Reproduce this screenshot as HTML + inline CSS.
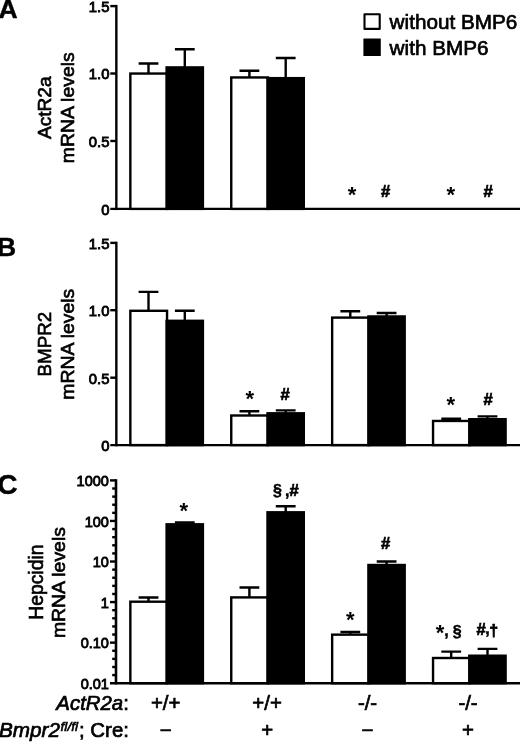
<!DOCTYPE html>
<html lang="en">
<head>
<meta charset="utf-8">
<title>Figure: ActR2a, BMPR2 and Hepcidin mRNA levels</title>
<style>
html,body{margin:0;padding:0;background:#fff;}
body{width:520px;height:742px;overflow:hidden;font-family:"Liberation Sans",sans-serif;}
svg{display:block;}
text{font-family:"Liberation Sans",sans-serif;fill:#000;}
.l{fill:none;stroke:#000;stroke-width:2.4;}
.w{fill:#fff;stroke:#000;stroke-width:2.4;}
.b{fill:#000;stroke:#000;stroke-width:2.4;}
.t{font-size:15px;stroke:#000;stroke-width:.9px;}
.y{font-size:19.2px;stroke:#000;stroke-width:.65px;}
.g{font-size:20.7px;stroke:#000;stroke-width:.7px;}
.i{font-style:italic;}
.s{font-weight:bold;}
.h{stroke:#000;stroke-width:.7px;}
.h2{stroke:#000;stroke-width:.45px;}
.u{font-size:13.6px;stroke:#000;stroke-width:.6px;}
.p{font-size:26.5px;font-weight:bold;stroke:#000;stroke-width:.4px;}
</style>
</head>
<body>
<svg width="520" height="742" viewBox="0 0 520 742">
<rect width="520" height="742" fill="#fff"/>
<path d="M116.35 4.90V210.10" class="l"/>
<path d="M110.3 208.90H520" class="l"/>
<path d="M110.3 6.10H116.35" class="l"/>
<path d="M110.3 73.50H116.35" class="l"/>
<path d="M110.3 141.00H116.35" class="l"/>
<text transform="translate(109.5 11.90) scale(0.97 1)" class="t" style="font-size:15.3px" text-anchor="end">1.5</text>
<text transform="translate(109.5 79.30) scale(0.97 1)" class="t" style="font-size:15.3px" text-anchor="end">1.0</text>
<text transform="translate(109.5 146.80) scale(0.97 1)" class="t" style="font-size:15.3px" text-anchor="end">0.5</text>
<text transform="translate(109.5 214.70) scale(0.97 1)" class="t" style="font-size:15.3px" text-anchor="end">0</text>
<path d="M148.50 73.55V63.50M138.60 63.50H158.40" class="l"/>
<rect x="130.35" y="73.55" width="36.70" height="135.35" class="w"/>
<path d="M184.80 67.40V49.30M174.90 49.30H194.70" class="l"/>
<rect x="166.60" y="67.40" width="36.30" height="141.50" class="b"/>
<path d="M249.40 77.45V70.80M239.50 70.80H259.30" class="l"/>
<rect x="231.25" y="77.45" width="36.70" height="131.45" class="w"/>
<path d="M285.70 78.15V58.00M275.80 58.00H295.60" class="l"/>
<rect x="267.50" y="78.15" width="36.30" height="130.75" class="b"/>
<text transform="translate(51.0 107.8) rotate(-90)" class="y" text-anchor="middle" textLength="62.6" lengthAdjust="spacingAndGlyphs">ActR2a</text>
<text transform="translate(73.7 107.8) rotate(-90)" class="y" text-anchor="middle" textLength="110.9" lengthAdjust="spacingAndGlyphs">mRNA levels</text>
<text x="352.0" y="201.5" class="s" font-size="22" text-anchor="middle">*</text>
<text x="385.6" y="197.2" class="s h" font-size="16.6" text-anchor="middle">#</text>
<text x="450.8" y="201.5" class="s" font-size="22" text-anchor="middle">*</text>
<text x="488.0" y="197.2" class="s h" font-size="16.6" text-anchor="middle">#</text>
<path d="M116.35 241.70V446.30" class="l"/>
<path d="M110.3 445.10H520" class="l"/>
<path d="M110.3 242.90H116.35" class="l"/>
<path d="M110.3 310.20H116.35" class="l"/>
<path d="M110.3 377.70H116.35" class="l"/>
<text transform="translate(109.5 248.70) scale(0.97 1)" class="t" style="font-size:15.3px" text-anchor="end">1.5</text>
<text transform="translate(109.5 316.00) scale(0.97 1)" class="t" style="font-size:15.3px" text-anchor="end">1.0</text>
<text transform="translate(109.5 383.50) scale(0.97 1)" class="t" style="font-size:15.3px" text-anchor="end">0.5</text>
<text transform="translate(109.5 450.90) scale(0.97 1)" class="t" style="font-size:15.3px" text-anchor="end">0</text>
<path d="M148.50 310.80V291.90M138.60 291.90H158.40" class="l"/>
<rect x="130.35" y="310.80" width="36.70" height="134.30" class="w"/>
<path d="M184.80 320.80V310.80M174.90 310.80H194.70" class="l"/>
<rect x="166.60" y="320.80" width="36.30" height="124.30" class="b"/>
<path d="M249.40 415.50V411.30M239.50 411.30H259.30" class="l"/>
<rect x="231.25" y="415.50" width="36.70" height="29.60" class="w"/>
<path d="M285.70 413.30V410.40M275.80 410.40H295.60" class="l"/>
<rect x="267.50" y="413.30" width="36.30" height="31.80" class="b"/>
<path d="M350.30 317.60V311.20M340.40 311.20H360.20" class="l"/>
<rect x="332.15" y="317.60" width="36.70" height="127.50" class="w"/>
<path d="M386.60 316.45V313.00M376.70 313.00H396.50" class="l"/>
<rect x="368.40" y="316.45" width="36.30" height="128.65" class="b"/>
<path d="M451.20 420.95V418.70M441.30 418.70H461.10" class="l"/>
<rect x="433.05" y="420.95" width="36.70" height="24.15" class="w"/>
<path d="M487.50 419.20V416.40M477.60 416.40H497.40" class="l"/>
<rect x="469.30" y="419.20" width="36.30" height="25.90" class="b"/>
<text transform="translate(51.0 344.2) rotate(-90)" class="y" text-anchor="middle" textLength="64.6" lengthAdjust="spacingAndGlyphs">BMPR2</text>
<text transform="translate(73.7 344.2) rotate(-90)" class="y" text-anchor="middle" textLength="110.9" lengthAdjust="spacingAndGlyphs">mRNA levels</text>
<text x="249.8" y="406.3" class="s" font-size="22" text-anchor="middle">*</text>
<text x="285.0" y="399.6" class="s h" font-size="16.6" text-anchor="middle">#</text>
<text x="450.8" y="411.9" class="s" font-size="22" text-anchor="middle">*</text>
<text x="488.2" y="405.3" class="s h" font-size="16.6" text-anchor="middle">#</text>
<path d="M116.00 479.20V684.40" class="l" style="stroke-width:2.6"/>
<path d="M110.0 683.20H520" class="l"/>
<path d="M110.0 480.40H116.00" class="l"/>
<path d="M110.0 520.96H116.00" class="l"/>
<path d="M110.0 561.52H116.00" class="l"/>
<path d="M110.0 602.08H116.00" class="l"/>
<path d="M110.0 642.64H116.00" class="l"/>
<path d="M112.2 488.51H116.00" class="l"/>
<path d="M112.2 496.62H116.00" class="l"/>
<path d="M112.2 504.74H116.00" class="l"/>
<path d="M112.2 512.85H116.00" class="l"/>
<path d="M112.2 529.07H116.00" class="l"/>
<path d="M112.2 537.18H116.00" class="l"/>
<path d="M112.2 545.30H116.00" class="l"/>
<path d="M112.2 553.41H116.00" class="l"/>
<path d="M112.2 569.63H116.00" class="l"/>
<path d="M112.2 577.74H116.00" class="l"/>
<path d="M112.2 585.86H116.00" class="l"/>
<path d="M112.2 593.97H116.00" class="l"/>
<path d="M112.2 610.19H116.00" class="l"/>
<path d="M112.2 618.30H116.00" class="l"/>
<path d="M112.2 626.42H116.00" class="l"/>
<path d="M112.2 634.53H116.00" class="l"/>
<path d="M112.2 650.75H116.00" class="l"/>
<path d="M112.2 658.86H116.00" class="l"/>
<path d="M112.2 666.98H116.00" class="l"/>
<path d="M112.2 675.09H116.00" class="l"/>
<text transform="translate(108.9 486.25) scale(0.95 1)" class="t" style="font-size:15.3px" text-anchor="end">1000</text>
<text transform="translate(108.9 526.81) scale(0.95 1)" class="t" style="font-size:15.3px" text-anchor="end">100</text>
<text transform="translate(108.9 567.37) scale(0.95 1)" class="t" style="font-size:15.3px" text-anchor="end">10</text>
<text transform="translate(108.9 607.93) scale(0.95 1)" class="t" style="font-size:15.3px" text-anchor="end">1</text>
<text transform="translate(108.9 648.49) scale(0.95 1)" class="t" style="font-size:15.3px" text-anchor="end">0.10</text>
<text transform="translate(108.9 689.05) scale(0.95 1)" class="t" style="font-size:15.3px" text-anchor="end">0.01</text>
<path d="M148.50 601.70V597.50M138.60 597.50H158.40" class="l"/>
<rect x="130.35" y="601.70" width="36.70" height="81.50" class="w"/>
<path d="M184.80 524.30V522.50M174.90 522.50H194.70" class="l"/>
<rect x="166.60" y="524.30" width="36.30" height="158.90" class="b"/>
<path d="M249.40 597.40V587.50M239.50 587.50H259.30" class="l"/>
<rect x="231.25" y="597.40" width="36.70" height="85.80" class="w"/>
<path d="M285.70 512.30V506.30M275.80 506.30H295.60" class="l"/>
<rect x="267.50" y="512.30" width="36.30" height="170.90" class="b"/>
<path d="M350.30 634.65V632.00M340.40 632.00H360.20" class="l"/>
<rect x="332.15" y="634.65" width="36.70" height="48.55" class="w"/>
<path d="M386.60 565.00V561.50M376.70 561.50H396.50" class="l"/>
<rect x="368.40" y="565.00" width="36.30" height="118.20" class="b"/>
<path d="M451.20 658.00V651.60M441.30 651.60H461.10" class="l"/>
<rect x="433.05" y="658.00" width="36.70" height="25.20" class="w"/>
<path d="M487.50 655.70V648.90M477.60 648.90H497.40" class="l"/>
<rect x="469.30" y="655.70" width="36.30" height="27.50" class="b"/>
<text transform="translate(42.8 582.2) rotate(-90)" class="y" style="font-size:20.2px" text-anchor="middle" textLength="75.3" lengthAdjust="spacingAndGlyphs">Hepcidin</text>
<text transform="translate(64.8 582.6) rotate(-90)" class="y" text-anchor="middle" textLength="111.0" lengthAdjust="spacingAndGlyphs">mRNA levels</text>
<text x="183.7" y="518.0" class="s" font-size="22" text-anchor="middle">*</text>
<text x="277.4" y="496.0" class="s h2" font-size="16" text-anchor="middle">§</text>
<text x="287.2" y="495.6" class="s h2" font-size="16" text-anchor="middle">,</text>
<text x="294.0" y="495.6" class="s h" font-size="16.6" text-anchor="middle">#</text>
<text x="385.7" y="548.7" class="s h" font-size="16.6" text-anchor="middle">#</text>
<text x="350.2" y="627.0" class="s" font-size="22" text-anchor="middle">*</text>
<text x="440.1" y="640.3" class="s" font-size="22" text-anchor="middle">*</text>
<text x="446.4" y="635.6" class="s h2" font-size="16" text-anchor="middle">,</text>
<text x="457.2" y="637.1" class="s h2" font-size="16" text-anchor="middle">§</text>
<text x="481.1" y="634.9" class="s h" font-size="16.6" text-anchor="middle">#</text>
<text x="487.5" y="634.4" class="s h2" font-size="16" text-anchor="middle">,</text>
<text x="493.7" y="635.7" class="s h" font-size="16" text-anchor="middle">†</text>
<rect x="364.5" y="14.3" width="15.2" height="14.6" class="w" style="stroke-width:2.1;stroke-linejoin:round"/>
<rect x="363.4" y="38.5" width="17.4" height="17.5" rx=".6" fill="#000"/>
<text x="389.6" y="28.8" class="g">without BMP6</text>
<text x="389.6" y="55.0" class="g">with BMP6</text>
<text x="-1.6" y="18.0" class="p" font-size="27">A</text>
<text x="-2.9" y="255.5" class="p">B</text>
<text x="-2.7" y="494.2" class="p" style="font-size:28.2px">C</text>
<text x="128.9" y="710.3" class="g i" text-anchor="end" style="font-size:20.4px">ActR2a<tspan font-style="normal">:</tspan></text>
<text x="-1.0" y="737.4" class="g i">Bmpr2</text>
<text x="60.6" y="730.9" class="i u">fl/fl</text>
<text x="128.9" y="737.2" class="g" text-anchor="end" style="font-size:20.4px">; Cre:</text>
<text x="165.7" y="709.7" class="g" text-anchor="middle" style="font-size:20.4px">+/+</text>
<text x="165.7" y="737.4" class="g" text-anchor="middle" style="font-size:20.4px">−</text>
<text x="267.1" y="709.7" class="g" text-anchor="middle" style="font-size:20.4px">+/+</text>
<text x="267.1" y="737.4" class="g" text-anchor="middle" style="font-size:20.4px">+</text>
<text x="367.5" y="710.1" class="g" text-anchor="middle" style="font-size:20.4px">-/-</text>
<text x="367.5" y="737.4" class="g" text-anchor="middle" style="font-size:20.4px">−</text>
<text x="468.0" y="710.1" class="g" text-anchor="middle" style="font-size:20.4px">-/-</text>
<text x="468.0" y="737.4" class="g" text-anchor="middle" style="font-size:20.4px">+</text>
</svg>
</body>
</html>
